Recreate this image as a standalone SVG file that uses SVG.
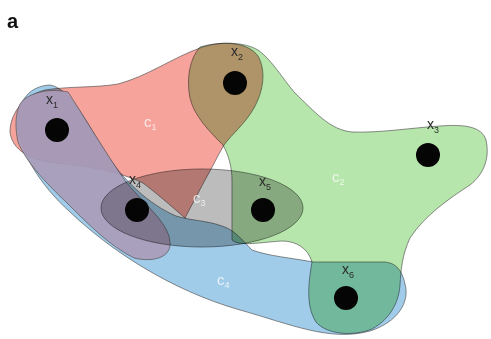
<svg xmlns="http://www.w3.org/2000/svg" width="491" height="339" viewBox="0 0 491 339">
<style>
.edge{stroke:#4a4a4a;stroke-width:0.9;stroke-opacity:0.7;mix-blend-mode:multiply}
.c1{fill:#f5a39b}
.c2{fill:#b6e6ac}
.c4{fill:#a0cce9}
.c5{fill:#a99cba;fill-opacity:0.92;mix-blend-mode:normal}
.c3{fill:#bcbcbc}
.dot{fill:#050505}
.vl{font-family:"Liberation Sans","DejaVu Sans",sans-serif;font-size:14px;fill:#2a2a2a}
.sub{font-size:9px}
.el{font-family:"Liberation Sans","DejaVu Sans",sans-serif;font-size:15px;fill:#ffffff;fill-opacity:0.75}
</style>
<rect width="491" height="339" fill="#ffffff"/>
<text x="7" y="28" font-family="Liberation Sans, Arial, sans-serif" font-size="20" font-weight="bold" fill="#111">a</text>
<g id="hyperedges" style="isolation:isolate">
  <g id="c4">
    <path class="edge c4" d="M50,85 C30,86 18,100 18,122 C18,150 40,185 70,212 C110,250 170,290 240,310 C290,324 330,342 370,331 C398,322 410,302 405,284 C402,270 396,263 385,262 L313,262 C292,258 268,256 252,250 C242,240 235,230 222,226 C205,220 192,221 176,216 C150,205 122,180 104,150 C88,125 70,88 50,85 Z"/>
  </g>
  <g id="c2">
    <path class="edge c2" d="M200,47 C190,58 186,78 190,98 C194,116 210,132 223,145 C229,156 232,168 232,180 L232,240 C240,247 262,242 282,241 C296,241 308,248 312,262 C309,280 305,305 316,322 C326,334 352,337 372,329 C392,318 399,300 400,285 C401,270 402,255 410,238 C425,215 450,198 470,185 C484,174 490,158 486,140 C482,127 466,124 440,126 C410,128 380,133 352,132 C330,130 315,112 295,93 C282,78 272,60 258,50 C245,42 220,41 200,47 Z"/>
  </g>
  <g id="c1">
    <path class="edge c1" d="M10,132 C10,115 22,96 45,90 C70,86 95,88 118,84 C148,76 172,58 200,48 C222,40 248,42 258,56 C266,70 264,90 254,108 C245,124 232,134 224,145 C218,155 212,168 205,180 L185,218 C170,205 155,192 143,183 C120,172 90,166 55,163 C30,160 12,150 10,132 Z"/>
  </g>
  <g id="c5">
    <path class="edge c5" d="M20,104 C28,92 50,88 68,92 C85,118 105,152 126,182 C148,208 172,226 170,246 C168,259 150,262 134,258 C110,246 90,226 66,202 C45,182 26,162 18,142 C15,128 15,114 20,104 Z"/>
  </g>
  <g id="c3">
    <ellipse class="edge c3" cx="202" cy="208" rx="101" ry="39"/>
  </g>
</g>
<g id="edge-labels">
  <text class="el" x="144" y="127">c<tspan class="sub" dy="3">1</tspan></text>
  <text class="el" x="332" y="182">c<tspan class="sub" dy="3">2</tspan></text>
  <text class="el" x="193" y="203">c<tspan class="sub" dy="3">3</tspan></text>
  <text class="el" x="217" y="285">c<tspan class="sub" dy="3">4</tspan></text>
</g>
<g id="x1"><circle class="dot" cx="57" cy="130" r="12"/><text class="vl" x="46" y="104">x<tspan class="sub" dy="4">1</tspan></text></g>
<g id="x2"><circle class="dot" cx="235" cy="83" r="12"/><text class="vl" x="231" y="56">x<tspan class="sub" dy="4">2</tspan></text></g>
<g id="x3"><circle class="dot" cx="428" cy="155" r="12"/><text class="vl" x="427" y="129">x<tspan class="sub" dy="4">3</tspan></text></g>
<g id="x4"><circle class="dot" cx="137" cy="210" r="12"/><text class="vl" x="129" y="184">x<tspan class="sub" dy="4">4</tspan></text></g>
<g id="x5"><circle class="dot" cx="263" cy="210" r="12"/><text class="vl" x="259" y="186">x<tspan class="sub" dy="4">5</tspan></text></g>
<g id="x6"><circle class="dot" cx="346" cy="298" r="12"/><text class="vl" x="342" y="274">x<tspan class="sub" dy="4">6</tspan></text></g>
</svg>
